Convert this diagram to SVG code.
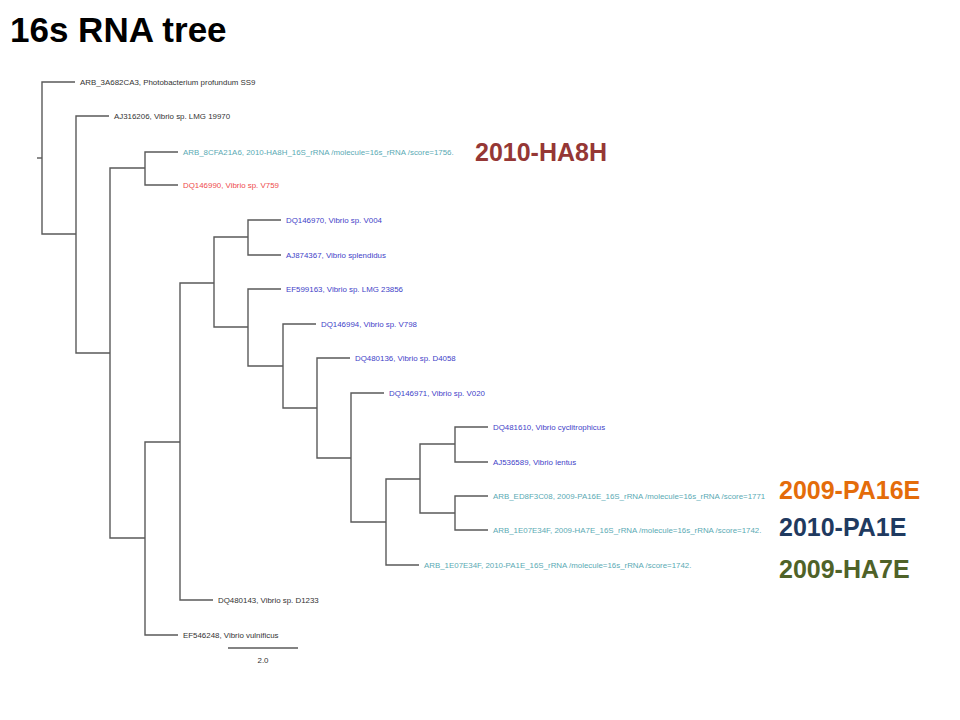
<svg xmlns="http://www.w3.org/2000/svg" width="960" height="720" viewBox="0 0 960 720">
<style>
.br{fill:none;stroke:#5a5a5a;stroke-width:1.4}
.lf{font-family:"Liberation Sans","DejaVu Sans",sans-serif;font-size:7.9px}
.k{fill:#333}
.t{fill:#5aaab4}
.r{fill:#ee4c4c}
.b{fill:#3f3fc8}
.big{font-family:"Liberation Sans",Arial,sans-serif;font-weight:bold;font-size:25px}
</style>
<rect width="960" height="720" fill="#fff"/>
<text id="title" x="10" y="42" font-family="Liberation Sans,Arial,sans-serif" font-weight="bold" font-size="35" fill="#000">16s RNA tree</text>
<g id="connectors" class="br">
<path d="M37,158 H42"/>
<path d="M42,158 V82 H75"/>
<path d="M42,158 V234 H76"/>
<path d="M76,234 V116 H109"/>
<path d="M76,234 V353 H110"/>
<path d="M110,353 V168 H145"/>
<path d="M110,353 V538 H145"/>
<path d="M145,168 V152 H178"/>
<path d="M145,168 V185 H178"/>
<path d="M145,538 V442 H180"/>
<path d="M145,538 V635 H178"/>
<path d="M180,442 V283 H214"/>
<path d="M180,442 V600 H213"/>
<path d="M214,283 V237 H248"/>
<path d="M214,283 V327 H248"/>
<path d="M248,237 V220 H281"/>
<path d="M248,237 V255 H281"/>
<path d="M248,327 V289 H281"/>
<path d="M248,327 V366 H283"/>
<path d="M283,366 V324 H316"/>
<path d="M283,366 V408 H317"/>
<path d="M317,408 V358 H350"/>
<path d="M317,408 V458 H351"/>
<path d="M351,458 V393 H384"/>
<path d="M351,458 V522 H386"/>
<path d="M386,522 V479 H420"/>
<path d="M386,522 V565 H419"/>
<path d="M420,479 V444 H455"/>
<path d="M420,479 V513 H455"/>
<path d="M455,444 V427 H488"/>
<path d="M455,444 V462 H488"/>
<path d="M455,513 V496 H488"/>
<path d="M455,513 V530 H488"/>
<path d="M228,648 H298"/>
</g>
<g id="leaf-ARB_3A682CA3"><text class="lf k" x="80" y="84.8">ARB_3A682CA3, Photobacterium profundum SS9</text></g>
<g id="leaf-AJ316206"><text class="lf k" x="114" y="118.8">AJ316206, Vibrio sp. LMG 19970</text></g>
<g id="leaf-ARB_8CFA21A6"><text class="lf t" x="183" y="154.8">ARB_8CFA21A6, 2010-HA8H_16S_rRNA /molecule=16s_rRNA /score=1756.</text></g>
<g id="leaf-DQ146990"><text class="lf r" x="183" y="187.8">DQ146990, Vibrio sp. V759</text></g>
<g id="leaf-DQ146970"><text class="lf b" x="286" y="222.8">DQ146970, Vibrio sp. V004</text></g>
<g id="leaf-AJ874367"><text class="lf b" x="286" y="257.8">AJ874367, Vibrio splendidus</text></g>
<g id="leaf-EF599163"><text class="lf b" x="286" y="291.8">EF599163, Vibrio sp. LMG 23856</text></g>
<g id="leaf-DQ146994"><text class="lf b" x="321" y="326.8">DQ146994, Vibrio sp. V798</text></g>
<g id="leaf-DQ480136"><text class="lf b" x="355" y="360.8">DQ480136, Vibrio sp. D4058</text></g>
<g id="leaf-DQ146971"><text class="lf b" x="389" y="395.8">DQ146971, Vibrio sp. V020</text></g>
<g id="leaf-DQ481610"><text class="lf b" x="493" y="429.8">DQ481610, Vibrio cyclitrophicus</text></g>
<g id="leaf-AJ536589"><text class="lf b" x="493" y="464.8">AJ536589, Vibrio lentus</text></g>
<g id="leaf-ARB_ED8F3C08"><text class="lf t" x="493" y="498.8">ARB_ED8F3C08, 2009-PA16E_16S_rRNA /molecule=16s_rRNA /score=1771</text></g>
<g id="leaf-ARB_1E07E34F-HA7E"><text class="lf t" x="493" y="532.8">ARB_1E07E34F, 2009-HA7E_16S_rRNA /molecule=16s_rRNA /score=1742.</text></g>
<g id="leaf-ARB_1E07E34F-PA1E"><text class="lf t" x="424" y="567.8">ARB_1E07E34F, 2010-PA1E_16S_rRNA /molecule=16s_rRNA /score=1742.</text></g>
<g id="leaf-DQ480143"><text class="lf k" x="218" y="602.8">DQ480143, Vibrio sp. D1233</text></g>
<g id="leaf-EF546248"><text class="lf k" x="183" y="637.8">EF546248, Vibrio vulnificus</text></g>
<g id="scale"><text class="lf k" x="263" y="663" text-anchor="middle" font-size="9">2.0</text></g>
<g id="tag-2010-HA8H"><text class="big" x="475" y="161" fill="#953735">2010-HA8H</text></g>
<g id="tag-2009-PA16E"><text class="big" x="779" y="499" fill="#e46c0a">2009-PA16E</text></g>
<g id="tag-2010-PA1E"><text class="big" x="779" y="536" fill="#1f3a60">2010-PA1E</text></g>
<g id="tag-2009-HA7E"><text class="big" x="779" y="578" fill="#4f6228">2009-HA7E</text></g>
</svg>
